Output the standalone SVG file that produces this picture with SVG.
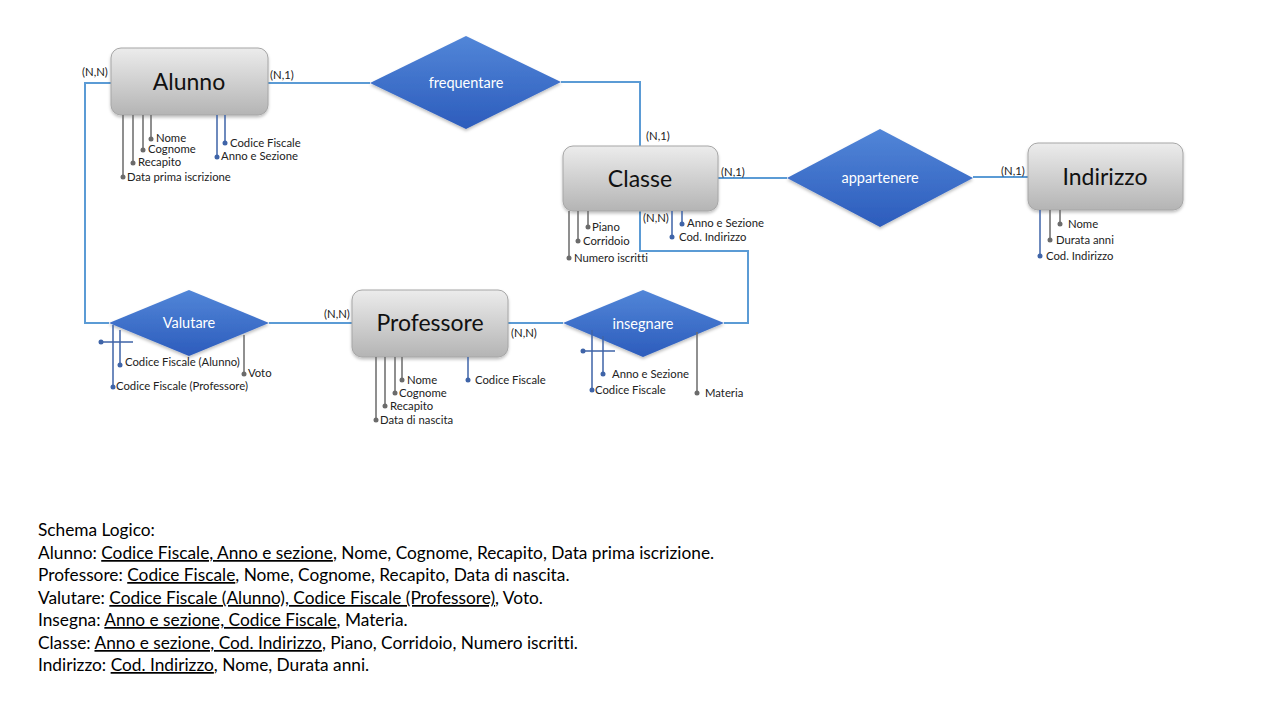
<svg xmlns="http://www.w3.org/2000/svg" width="1280" height="720" viewBox="0 0 1280 720">
<defs>
<linearGradient id="gEnt" x1="0" y1="0" x2="0" y2="1">
<stop offset="0" stop-color="#ececec"/>
<stop offset="1" stop-color="#b4b4b4"/>
</linearGradient>
<linearGradient id="gRel" x1="0" y1="0" x2="0" y2="1">
<stop offset="0" stop-color="#5286d8"/>
<stop offset="1" stop-color="#2c5cbc"/>
</linearGradient>
<filter id="sh" x="-10%" y="-10%" width="120%" height="130%">
<feDropShadow dx="0" dy="2" stdDeviation="1.5" flood-color="#000" flood-opacity="0.25"/>
</filter>
</defs>
<style>
text{font-variant-ligatures:none}
.ent{fill:url(#gEnt);stroke:#a6a6a6;stroke-width:1;filter:url(#sh)}
.rel{fill:url(#gRel);filter:url(#sh)}
.et{font-family:Lato,"Liberation Sans",sans-serif;font-size:23px;fill:#111;text-anchor:middle}
.rt{font-family:Lato,"Liberation Sans",sans-serif;font-size:14.5px;fill:#fff;text-anchor:middle}
.lb{font-family:Lato,"Liberation Sans",sans-serif;font-size:11.3px;fill:#222}
.con{fill:none;stroke:#5b9bd5;stroke-width:2}
.ag{stroke:#6b6b6b;stroke-width:1.5;fill:none}
.ab{stroke:#3f64a8;stroke-width:1.5;fill:none}
.dg{fill:#6b6b6b}
.db{fill:#3f64a8}
.sc{font-family:Lato,"Liberation Sans",sans-serif;font-size:17.3px;fill:#000}
.u{text-decoration:underline}
</style>
<rect width="1280" height="720" fill="#fff"/>

<g id="connectors">
<polyline class="con" points="268,83 370,83"/>
<polyline class="con" points="561,82 640,82 640,146"/>
<polyline class="con" points="718,178 787,178"/>
<polyline class="con" points="973,177 1028,177"/>
<polyline class="con" points="111,83 85,83 85,323 109,323"/>
<polyline class="con" points="269,323 352,323"/>
<polyline class="con" points="508,323 563,323"/>
<polyline class="con" points="724,323 748,323 748,251 640,251 640,211"/>
</g>

<g id="Alunno">
<rect class="ent" x="111" y="48" width="157" height="67" rx="10"/>
<text class="et" x="189" y="90">Alunno</text>
<path class="ag" d="M123,115V177M133,115V163M143,115V150M151,115V139"/>
<path class="ab" d="M217,115V157M225,115V143"/>
<circle class="dg" cx="123" cy="177" r="2.5"/><circle class="dg" cx="133" cy="163" r="2.5"/><circle class="dg" cx="143" cy="150" r="2.5"/><circle class="dg" cx="151" cy="139" r="2.5"/>
<circle class="db" cx="217" cy="157" r="2.5"/><circle class="db" cx="225" cy="143" r="2.5"/>
<text class="lb" x="156" y="142">Nome</text>
<text class="lb" x="148" y="153">Cognome</text>
<text class="lb" x="138" y="166">Recapito</text>
<text class="lb" x="127" y="181">Data prima iscrizione</text>
<text class="lb" x="230" y="147">Codice Fiscale</text>
<text class="lb" x="221" y="160">Anno e Sezione</text>
<text class="lb" x="82" y="76">(N,N)</text>
<text class="lb" x="270" y="79">(N,1)</text>
</g>

<g id="frequentare">
<polygon class="rel" points="370,83 466,36 561,82 466,129"/>
<text class="rt" x="466" y="88">frequentare</text>
</g>

<g id="Classe">
<rect class="ent" x="563" y="146" width="155" height="65" rx="10"/>
<text class="et" x="640" y="187">Classe</text>
<path class="ag" d="M569,211V258M578,211V241M588,211V227"/>
<path class="ab" d="M672,211V237M682,211V224"/>
<circle class="dg" cx="569" cy="258" r="2.5"/><circle class="dg" cx="578" cy="241" r="2.5"/><circle class="dg" cx="588" cy="227" r="2.5"/>
<circle class="db" cx="672" cy="237" r="2.5"/><circle class="db" cx="682" cy="224" r="2.5"/>
<text class="lb" x="592" y="231">Piano</text>
<text class="lb" x="583" y="245">Corridoio</text>
<text class="lb" x="574" y="262">Numero iscritti</text>
<text class="lb" x="687" y="227">Anno e Sezione</text>
<text class="lb" x="679" y="241">Cod. Indirizzo</text>
<text class="lb" x="646" y="140">(N,1)</text>
<text class="lb" x="721" y="176">(N,1)</text>
<text class="lb" x="643" y="222">(N,N)</text>
</g>

<g id="appartenere">
<polygon class="rel" points="787,178 880,129 973,178 880,227"/>
<text class="rt" x="880" y="183">appartenere</text>
</g>

<g id="Indirizzo">
<rect class="ent" x="1028" y="143" width="155" height="67" rx="10"/>
<text class="et" x="1105" y="185">Indirizzo</text>
<path class="ab" d="M1040,210V256"/>
<path class="ag" d="M1050,210V240M1060,210V224"/>
<circle class="db" cx="1040" cy="256" r="2.5"/><circle class="dg" cx="1050" cy="240" r="2.5"/><circle class="dg" cx="1060" cy="224" r="2.5"/>
<text class="lb" x="1068" y="228">Nome</text>
<text class="lb" x="1056" y="244">Durata anni</text>
<text class="lb" x="1046" y="260">Cod. Indirizzo</text>
<text class="lb" x="1001" y="175">(N,1)</text>
</g>

<g id="Valutare">
<polygon class="rel" points="109,323 189,290 269,323 189,356"/>
<text class="rt" x="189" y="328">Valutare</text>
<path class="ab" d="M113,325V387M120,330V365M101,342H133"/>
<path class="ag" d="M244,335V374"/>
<circle class="db" cx="113" cy="387" r="2.5"/><circle class="db" cx="120" cy="365" r="2.5"/><circle class="db" cx="101" cy="342" r="2.5"/>
<circle class="dg" cx="244" cy="374" r="2.5"/>
<text class="lb" x="125" y="366">Codice Fiscale (Alunno)</text>
<text class="lb" x="248" y="377">Voto</text>
<text class="lb" x="116" y="390">Codice Fiscale (Professore)</text>
</g>

<g id="Professore">
<rect class="ent" x="352" y="290" width="156" height="67" rx="10"/>
<text class="et" x="430" y="331">Professore</text>
<path class="ag" d="M376,357V420M385,357V406M395,357V393M402,357V380"/>
<path class="ab" d="M468,357V380"/>
<circle class="dg" cx="376" cy="420" r="2.5"/><circle class="dg" cx="385" cy="406" r="2.5"/><circle class="dg" cx="395" cy="393" r="2.5"/><circle class="dg" cx="402" cy="380" r="2.5"/>
<circle class="db" cx="468" cy="380" r="2.5"/>
<text class="lb" x="407" y="384">Nome</text>
<text class="lb" x="399" y="397">Cognome</text>
<text class="lb" x="390" y="410">Recapito</text>
<text class="lb" x="380" y="424">Data di nascita</text>
<text class="lb" x="475" y="384">Codice Fiscale</text>
<text class="lb" x="324" y="318">(N,N)</text>
<text class="lb" x="511" y="337">(N,N)</text>
</g>

<g id="insegnare">
<polygon class="rel" points="563,323 643,290 724,323 643,357"/>
<text class="rt" x="643" y="329">insegnare</text>
<path class="ab" d="M592,330V390M603,336V374M583,351H615"/>
<path class="ag" d="M697,332V393"/>
<circle class="db" cx="592" cy="390" r="2.5"/><circle class="db" cx="603" cy="374" r="2.5"/><circle class="db" cx="583" cy="351" r="2.5"/>
<circle class="dg" cx="697" cy="393" r="2.5"/>
<text class="lb" x="612" y="378">Anno e Sezione</text>
<text class="lb" x="595" y="394">Codice Fiscale</text>
<text class="lb" x="705" y="397">Materia</text>
</g>

<g id="schema">
<text class="sc" x="38" y="536">Schema Logico:</text>
<text class="sc" x="38" y="559">Alunno: <tspan class="u">Codice Fiscale, Anno e sezione</tspan>, Nome, Cognome, Recapito, Data prima iscrizione.</text>
<text class="sc" x="38" y="581">Professore: <tspan class="u">Codice Fiscale</tspan>, Nome, Cognome, Recapito, Data di nascita.</text>
<text class="sc" x="38" y="604">Valutare: <tspan class="u">Codice Fiscale (Alunno), Codice Fiscale (Professore)</tspan>, Voto.</text>
<text class="sc" x="38" y="626">Insegna: <tspan class="u">Anno e sezione, Codice Fiscale</tspan>, Materia.</text>
<text class="sc" x="38" y="649">Classe: <tspan class="u">Anno e sezione, Cod. Indirizzo</tspan>, Piano, Corridoio, Numero iscritti.</text>
<text class="sc" x="38" y="671">Indirizzo: <tspan class="u">Cod. Indirizzo</tspan>, Nome, Durata anni.</text>
</g>
</svg>
